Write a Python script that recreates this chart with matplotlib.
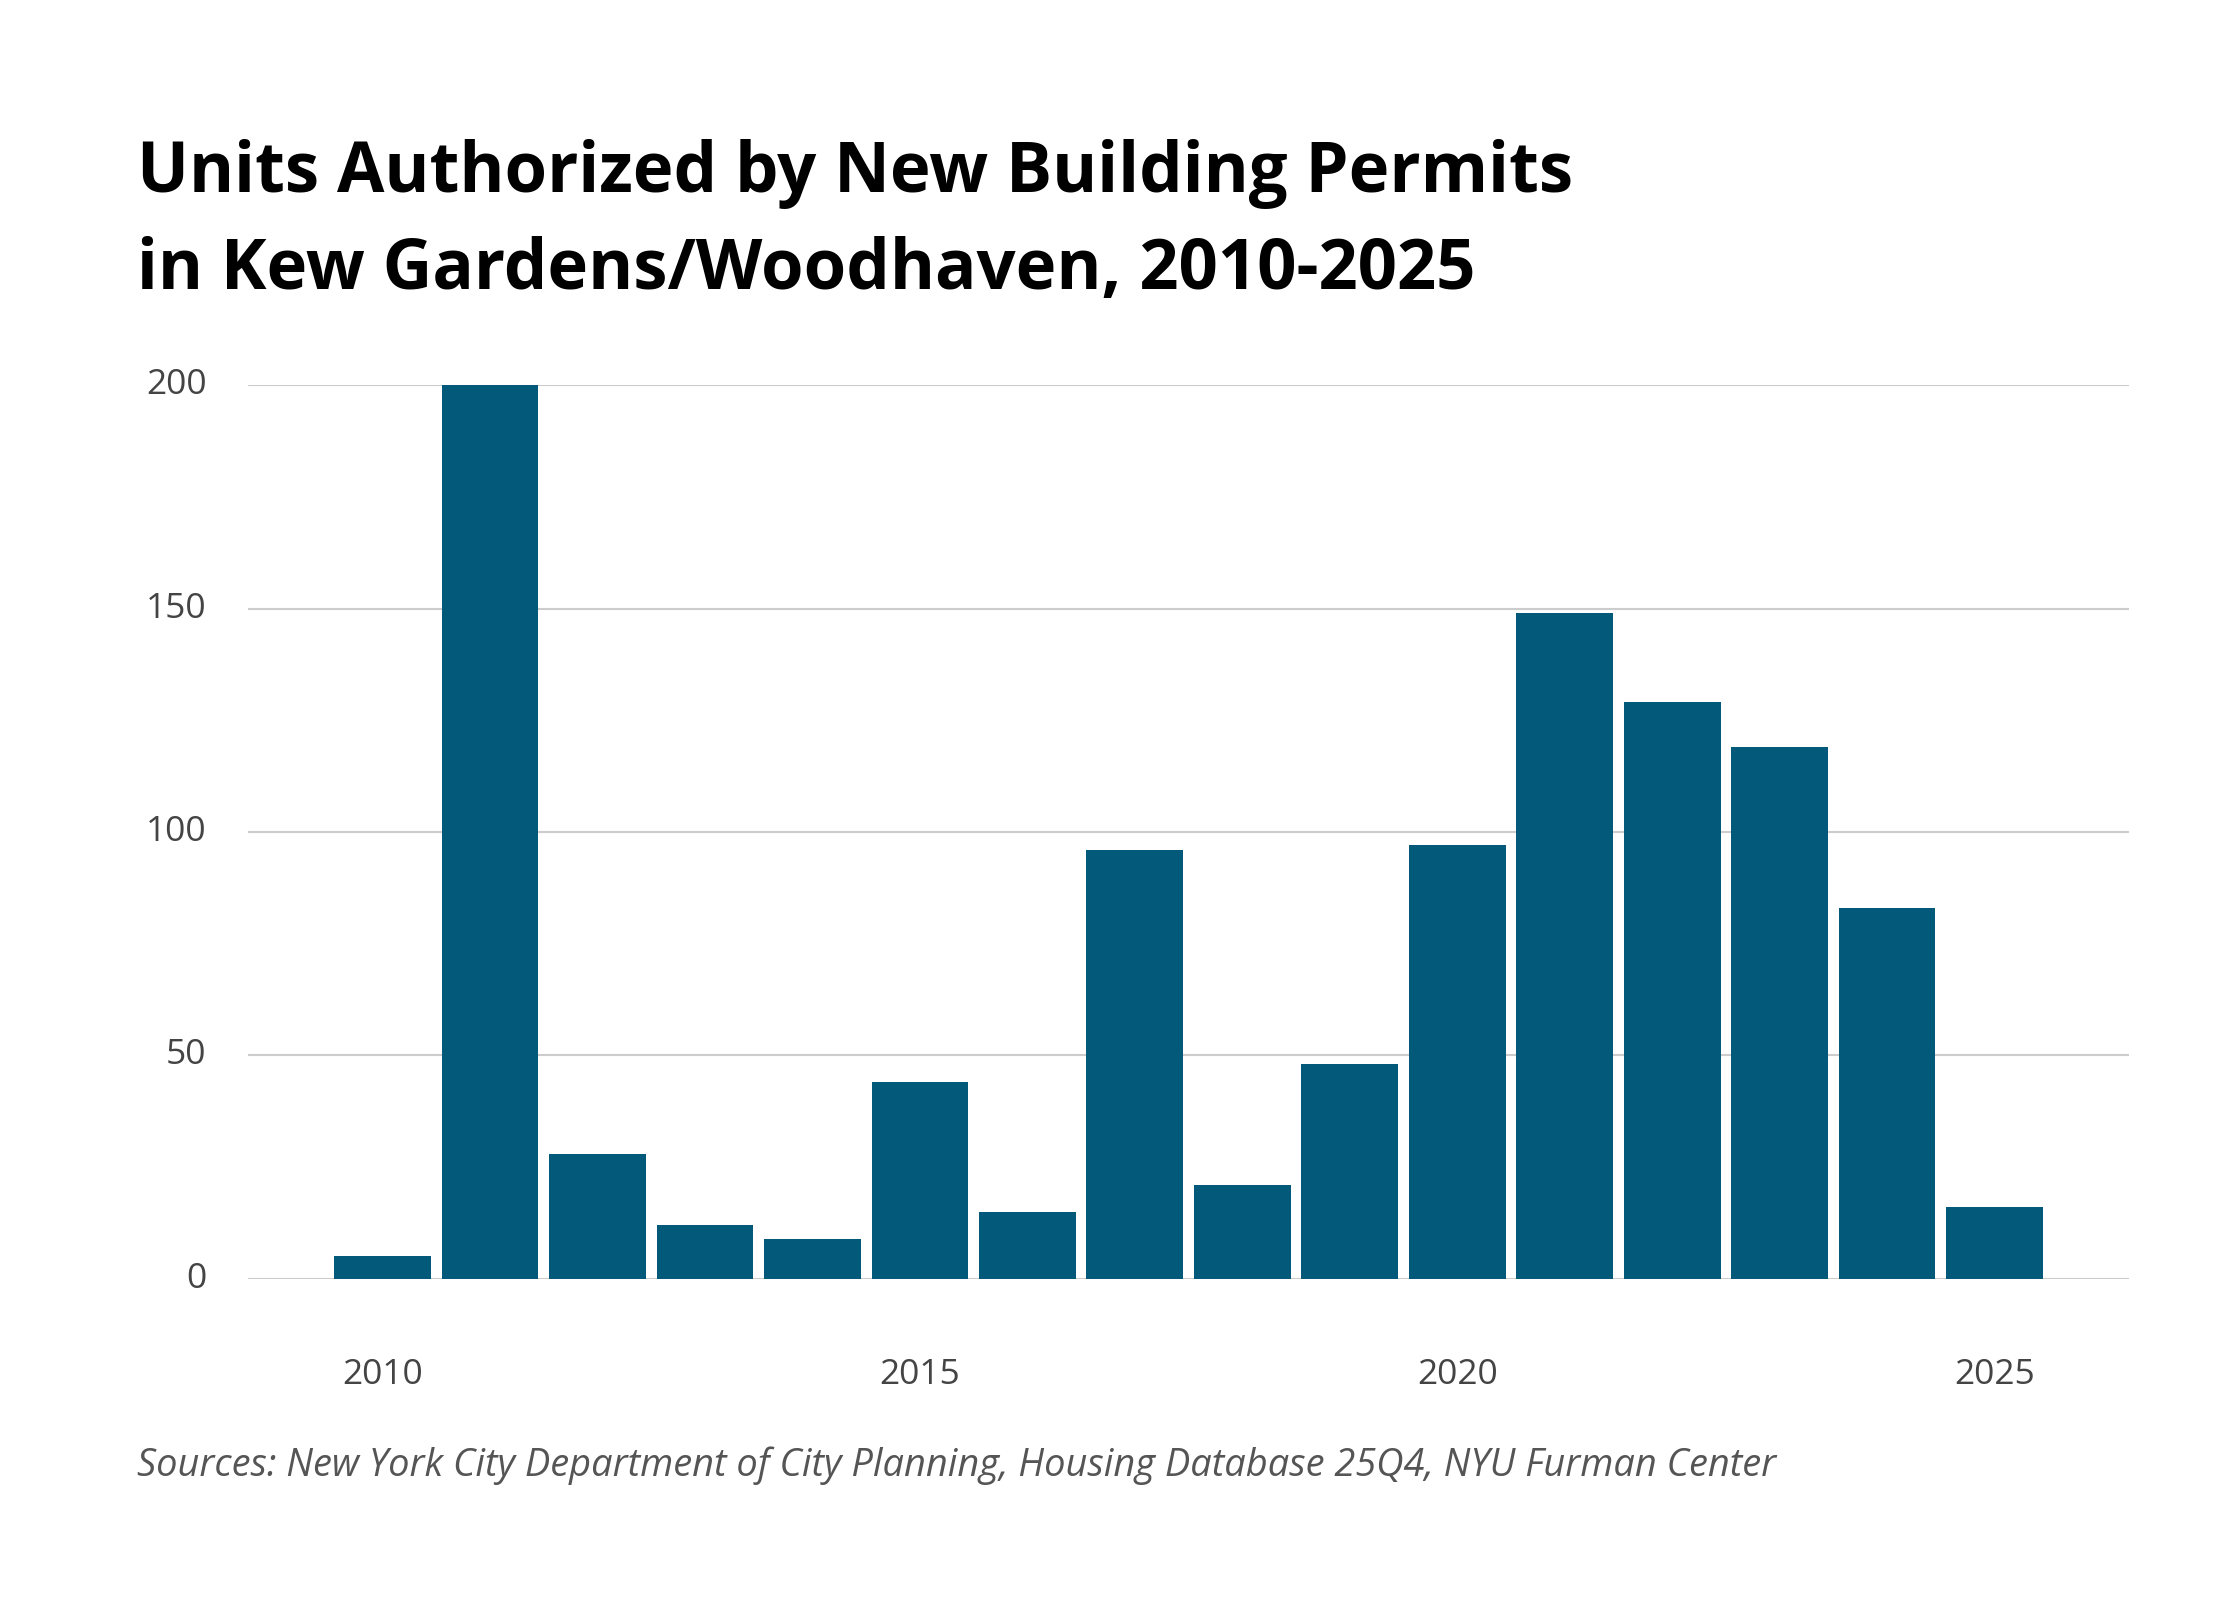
import matplotlib
matplotlib.use("Agg")
import matplotlib.pyplot as plt

years = list(range(2010, 2026))
units = [5, 200, 28, 12, 9, 44, 15, 96, 21, 48, 97, 149, 129, 119, 83, 16]
yticks = [0, 50, 100, 150, 200]
xticks = [2010, 2015, 2020, 2025]

title_lines = ["Units Authorized by New Building Permits",
               "in Kew Gardens/Woodhaven, 2010-2025"]
source = "Sources: New York City Department of City Planning, Housing Database 25Q4, NYU Furman Center"

bar_color = "#02597a"
grid_color = "#cccccc"
tick_color = "#444444"

fig = plt.figure(figsize=(22.4, 16), dpi=100)
ax = fig.add_axes([0.1108, 0.2008, 0.9504 - 0.1108, 0.7592 - 0.2008])

ax.bar(years, units, width=0.9, color=bar_color, zorder=3)
ax.set_xlim(2008.75, 2026.25)
ax.set_ylim(0, 200)
ax.set_yticks(yticks)
ax.set_xticks(xticks)
ax.set_yticklabels([str(v) for v in yticks], family="Open Sans", fontsize=25.5, color=tick_color)
ax.set_xticklabels([str(v) for v in xticks], family="Open Sans", fontsize=25.5, color=tick_color)
ax.tick_params(axis="y", length=0, pad=30)
ax.tick_params(axis="x", length=0, pad=57)
ax.grid(axis="y", color=grid_color, linewidth=1.5, zorder=0)
ax.set_axisbelow(True)
for s in ax.spines.values():
    s.set_visible(False)
for lbl in ax.get_yticklabels():
    lbl.set_verticalalignment("center")

for i, line in enumerate(title_lines):
    fig.text(0.0612, 1 - (192 + 97 * i) / 1600, line, family="Open Sans", fontweight="bold",
             fontsize=49.5, color="#000000", va="baseline", ha="left")
fig.text(0.0612, 1 - 1476 / 1600, source, family="Open Sans", style="italic",
         fontsize=27.4, color="#555555", va="baseline", ha="left")

fig.savefig("out.png", dpi=100, facecolor="white")
